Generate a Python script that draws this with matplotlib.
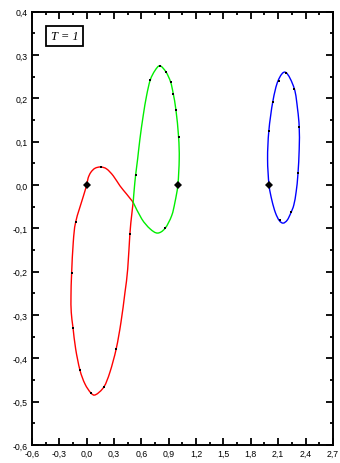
import numpy as np
import matplotlib
matplotlib.use("Agg")
import matplotlib.pyplot as plt
from matplotlib.path import Path
from matplotlib.patches import PathPatch
from matplotlib.ticker import FixedLocator, MultipleLocator, FuncFormatter

plt.rcParams['font.family'] = ['Liberation Sans', 'DejaVu Sans']

# orbit outlines (x, y); red and green start and end at the shared cusp
red_x = [0.51, 0.438, 0.365, 0.292, 0.219, 0.153, 0.091, 0.045, 0.016, 0.0, -0.035, -0.12, -0.147,
         -0.165, -0.172, -0.169, -0.15, -0.121, -0.074, -0.019, 0.047, 0.098, 0.189, 0.255,
         0.324, 0.376, 0.42, 0.450, 0.474, 0.493, 0.51]
red_y = [-0.040, -0.021, -0.002, 0.021, 0.037, 0.0415, 0.0385, 0.029, 0.016, 0.0, -0.025, -0.085, -0.132,
         -0.204, -0.255, -0.294, -0.329, -0.378, -0.427, -0.459, -0.480, -0.484, -0.466, -0.432,
         -0.378, -0.317, -0.248, -0.194, -0.113, -0.071, -0.040]

green_x = [0.51, 0.522, 0.537, 0.559, 0.584, 0.62, 0.657, 0.697, 0.749, 0.803, 0.869, 0.92,
           0.949, 0.979, 1.008, 1.015, 1.0, 0.968, 0.932, 0.86, 0.778, 0.694, 0.603, 0.51]
green_y = [-0.040, -0.009, 0.023, 0.060, 0.106, 0.160, 0.206, 0.242, 0.264, 0.275, 0.261, 0.238,
           0.211, 0.173, 0.111, 0.060, 0.0, -0.040, -0.071, -0.100, -0.111, -0.101, -0.078, -0.040]

blue_x = [2.182, 2.276, 2.313, 2.331, 2.331, 2.317, 2.298, 2.272, 2.24, 2.20, 2.155, 2.112,
          2.07, 2.032, 2.0, 1.984, 1.998, 2.042, 2.10]
blue_y = [0.260, 0.223, 0.175, 0.133, 0.083, 0.025, -0.015, -0.046, -0.064, -0.081, -0.088, -0.082,
          -0.064, -0.036, 0.0, 0.060, 0.125, 0.193, 0.241]

# sampled positions along each orbit
red_dots_x = [0.153, -0.12, -0.165, -0.15, -0.074, 0.047, 0.189, 0.324, 0.474]
red_dots_y = [0.0415, -0.085, -0.204, -0.329, -0.427, -0.480, -0.466, -0.378, -0.113]
green_dots_x = [0.537, 0.697, 0.803, 0.869, 0.92, 0.949, 0.979, 1.008, 0.86]
green_dots_y = [0.023, 0.242, 0.275, 0.261, 0.238, 0.211, 0.173, 0.111, -0.100]
blue_dots_x = [2.185, 2.105, 2.046, 1.998, 2.276, 2.33, 2.313, 2.24, 2.116]
blue_dots_y = [0.259, 0.241, 0.192, 0.125, 0.222, 0.134, 0.027, -0.063, -0.081]

# starting points
start_x = [0.0, 1.0, 2.0]
start_y = [0.0, 0.0, 0.0]

x_ticks = [-0.6, -0.3, 0.0, 0.3, 0.6, 0.9, 1.2, 1.5, 1.8, 2.1, 2.4, 2.7]
y_ticks = [-0.6, -0.5, -0.4, -0.3, -0.2, -0.1, 0.0, 0.1, 0.2, 0.3, 0.4]


def bezier_path(xs, ys, closed):
    # Catmull-Rom through the outline, written as cubic Bezier segments
    p = np.column_stack([xs, ys])
    n = len(p)
    if closed:
        ext = np.vstack([p[-1], p, p[0], p[1]])
    else:
        ext = np.vstack([p[0], p, p[-1]])
    verts = [p[0]]
    codes = [Path.MOVETO]
    nseg = n if closed else n - 1
    for i in range(nseg):
        p0, p1, p2, p3 = ext[i], ext[i + 1], ext[i + 2], ext[i + 3]
        verts += [p1 + (p2 - p0) / 6, p2 - (p3 - p1) / 6, p2]
        codes += [Path.CURVE4] * 3
    return Path(verts, codes)


fig = plt.figure(figsize=(3.4, 4.64), dpi=100)
ax = fig.add_axes([0.094, 0.0388, 0.885, 0.934])

for xs, ys, closed, col in [(red_x, red_y, False, '#ff0000'),
                            (green_x, green_y, False, '#00ee00'),
                            (blue_x, blue_y, True, '#0000ff')]:
    ax.add_patch(PathPatch(bezier_path(xs, ys, closed), fill=False, ec=col, lw=1.0))

dots_x = red_dots_x + green_dots_x + blue_dots_x
dots_y = red_dots_y + green_dots_y + blue_dots_y
ax.plot(dots_x, dots_y, 's', color='black', ms=1.6, mew=0, zorder=3)
ax.plot(start_x, start_y, 'D', color='black', ms=3.8, mew=0, zorder=4)

ax.set_xlim(-0.6, 2.7)
ax.set_ylim(-0.6, 0.4)

comma = FuncFormatter(lambda v, p: f"{v:.1f}".replace('.', ','))
ax.xaxis.set_major_locator(FixedLocator(x_ticks))
ax.yaxis.set_major_locator(FixedLocator(y_ticks))
ax.xaxis.set_minor_locator(MultipleLocator(0.15))
ax.yaxis.set_minor_locator(MultipleLocator(0.05))
ax.xaxis.set_major_formatter(comma)
ax.yaxis.set_major_formatter(comma)

ax.tick_params(which='both', direction='in', top=True, right=True, width=1.3,
               labelsize=6.3, pad=3)
ax.tick_params(which='major', length=5)
ax.tick_params(which='minor', length=2.5)
for s in ax.spines.values():
    s.set_linewidth(1.4)

ax.text(0.108, 0.944, "T = 1", transform=ax.transAxes, ha='center', va='center',
        fontsize=9, family='Liberation Serif', style='italic',
        bbox=dict(boxstyle='square,pad=0.35', fc='white', ec='black', lw=1.3))

fig.savefig("out.png", dpi=100)
